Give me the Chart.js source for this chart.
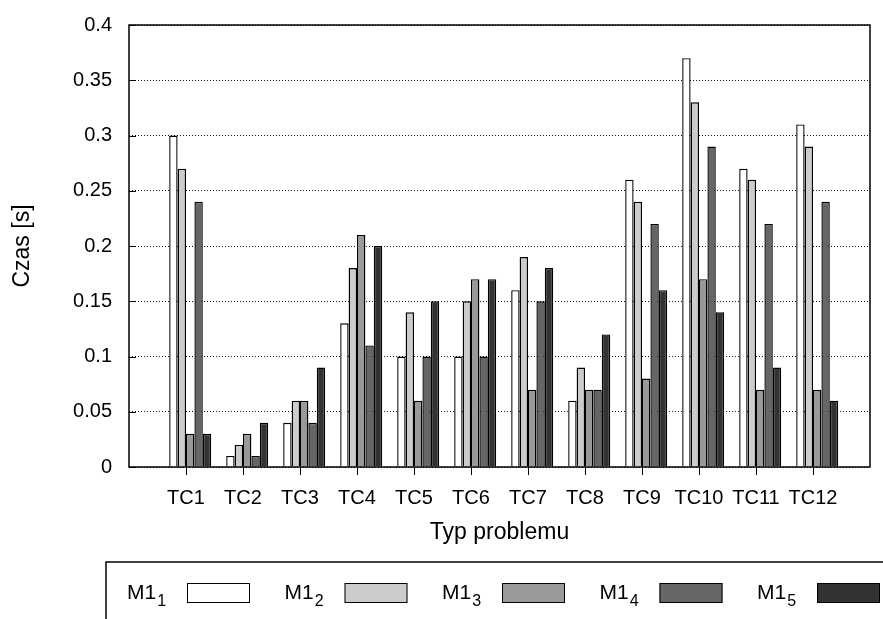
<!DOCTYPE html>
<html>
<head>
<meta charset="utf-8">
<script src="https://cdn.jsdelivr.net/npm/chart.js@4.4.1/dist/chart.umd.min.js"></script>
<style>
  html, body { margin: 0; padding: 0; background: #fff; }
  #wrap { width: 883px; height: 619px; }
</style>
</head>
<body>
<div id="wrap"><canvas id="chart" width="883" height="619"></canvas></div>
<script>
const categories = ["TC1", "TC2", "TC3", "TC4", "TC5", "TC6", "TC7", "TC8", "TC9", "TC10", "TC11", "TC12"];
const seriesNames = ["M1_1", "M1_2", "M1_3", "M1_4", "M1_5"];
const seriesColors = ["#ffffff", "#cccccc", "#999999", "#666666", "#333333"];

const m1_1 = [0.30, 0.01, 0.04, 0.13, 0.10, 0.10, 0.16, 0.06, 0.26, 0.37, 0.27, 0.31];
const m1_2 = [0.27, 0.02, 0.06, 0.18, 0.14, 0.15, 0.19, 0.09, 0.24, 0.33, 0.26, 0.29];
const m1_3 = [0.03, 0.03, 0.06, 0.21, 0.06, 0.17, 0.07, 0.07, 0.08, 0.17, 0.07, 0.07];
const m1_4 = [0.24, 0.01, 0.04, 0.11, 0.10, 0.10, 0.15, 0.07, 0.22, 0.29, 0.22, 0.24];
const m1_5 = [0.03, 0.04, 0.09, 0.20, 0.15, 0.17, 0.18, 0.12, 0.16, 0.14, 0.09, 0.06];

const yTicks = [0, 0.05, 0.1, 0.15, 0.2, 0.25, 0.3, 0.35, 0.4];

const FONT = "'Liberation Sans', Arial, sans-serif";
const series = [m1_1, m1_2, m1_3, m1_4, m1_5];

// gnuplot keeps an empty slot before and after the categories
const labels = ["", ...categories, ""];
const pad = arr => [null, ...arr, null];

// empty spacer bar first, so the cluster sits a little right of the tick like the original
const datasets = [{
  label: "",
  data: labels.map(() => null),
  backgroundColor: "transparent",
}];
series.forEach((vals, i) => {
  datasets.push({
    label: seriesNames[i].replace("_", ""),
    data: pad(vals),
    backgroundColor: seriesColors[i],
    borderColor: "#000",
    borderWidth: 1.4,
    borderSkipped: "bottom",
  });
});

const framePlugin = {
  id: "frame",
  afterDatasetsDraw(chart) {
    const { ctx, chartArea: a } = chart;
    const y = chart.scales.y;
    ctx.save();
    ctx.strokeStyle = "#000";
    ctx.lineWidth = 1;
    // inward ticks on the left axis
    y.ticks.forEach(t => {
      const py = Math.round(y.getPixelForValue(t.value)) + 0.5;
      ctx.beginPath();
      ctx.moveTo(a.left, py);
      ctx.lineTo(a.left + 7, py);
      ctx.stroke();
    });
    ctx.lineWidth = 1.5;
    ctx.strokeRect(Math.round(a.left), Math.round(a.top), Math.round(a.right - a.left), Math.round(a.bottom - a.top));
    ctx.restore();
  },
  afterDraw(chart) {
    const { ctx } = chart;
    ctx.save();
    // legend box, open to the right and bottom like the crop of the original
    ctx.strokeStyle = "#000";
    ctx.lineWidth = 1.5;
    ctx.beginPath();
    ctx.moveTo(chart.width + 5, 562);
    ctx.lineTo(106, 562);
    ctx.lineTo(106, chart.height + 5);
    ctx.stroke();

    ctx.textBaseline = "alphabetic";
    ctx.textAlign = "left";
    seriesNames.forEach((name, i) => {
      const [base, sub] = name.split("_");
      const x0 = 127 + i * 157.5;
      ctx.font = "21px " + FONT;
      ctx.fillStyle = "#000";
      ctx.fillText(base, x0, 599);
      const w = ctx.measureText(base).width;
      ctx.font = "16px " + FONT;
      ctx.fillText(sub, x0 + w + 1, 606);
      ctx.fillStyle = seriesColors[i];
      ctx.fillRect(x0 + 60, 583, 63, 20);
      ctx.lineWidth = 1;
      ctx.strokeStyle = "#000";
      ctx.strokeRect(x0 + 60.5, 583.5, 62, 19);
    });
    ctx.restore();
  }
};

new Chart(document.getElementById("chart"), {
  type: "bar",
  data: { labels, datasets },
  options: {
    responsive: false,
    animation: false,
    events: [],
    layout: { padding: { left: 0, right: 13, top: 25, bottom: 0 } },
    datasets: {
      bar: { categoryPercentage: 0.884, barPercentage: 1.0 }
    },
    plugins: {
      legend: { display: false },
      tooltip: { enabled: false },
    },
    scales: {
      x: {
        offset: false,
        afterFit(scale) { scale.height = 152; },
        grid: {
          offset: false,
          drawOnChartArea: false,
          tickLength: 8,
          tickColor: ctx => (ctx.tick && ctx.tick.label === "" ? "rgba(0,0,0,0)" : "#000"),
          lineWidth: 1,
        },
        border: { display: false },
        ticks: {
          autoSkip: false,
          maxRotation: 0,
          padding: 11,
          color: "#000",
          font: { family: FONT, size: 20 },
        },
        title: {
          display: true,
          text: "Typ problemu",
          color: "#000",
          font: { family: FONT, size: 23 },
          padding: { top: 4, bottom: 73 },
        },
      },
      y: {
        min: 0,
        max: 0.4,
        afterFit(scale) {
          scale.width = 129;
          scale.paddingTop = 12;
          scale.paddingBottom = 12;
        },
        afterBuildTicks(scale) { scale.ticks = yTicks.map(v => ({ value: v })); },
        grid: {
          color: "#111",
          lineWidth: 1,
          tickLength: 0,
          drawTicks: false,
        },
        // dotted grid like gnuplot
        border: { display: false, dash: [1, 2] },
        ticks: {
          padding: 17,
          color: "#000",
          font: { family: FONT, size: 20 },
          callback: v => String(Number(v.toFixed(2))),
        },
        title: {
          display: true,
          text: "Czas [s]",
          color: "#000",
          font: { family: FONT, size: 23 },
          padding: { top: 9, bottom: 0 },
        },
      },
    },
  },
  plugins: [framePlugin],
});
</script>
</body>
</html>
